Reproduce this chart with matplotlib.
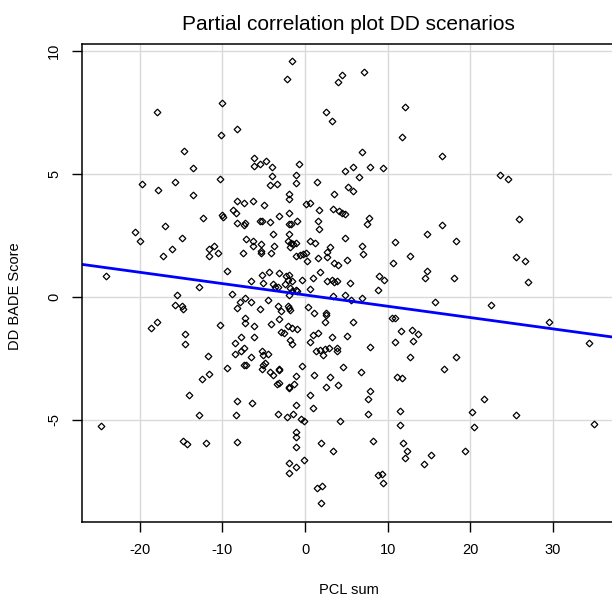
## Partial correlation scatter (R base-graphics look)
import matplotlib
matplotlib.use("Agg")
import matplotlib.pyplot as plt
import numpy as np

plt.rcParams['font.family'] = ['Liberation Sans', 'DejaVu Sans']
plt.rcParams['axes.unicode_minus'] = False  # R prints plain hyphens

# points (PCL sum, DD BADE score)
pts = [
    # top-left
    (-17.9, 7.52), (-14.6, 5.93), (-13.6, 5.22), (-19.7, 4.58), (-17.8, 4.34), (-15.8, 4.69), (-13.6, 4.15),
    # top-centre
    (-1.57, 9.58), (-2.14, 8.86), (4.0, 8.74), (4.47, 9.0), (-10.0, 7.87), (2.58, 7.52), (3.22, 7.15),
    (-10.16, 6.6), (-8.3, 6.84), (-6.17, 5.65), (-6.17, 5.32), (-5.44, 5.41), (-4.72, 5.54), (-4.03, 5.26),
    (-4.03, 4.93), (-4.23, 4.54), (-3.42, 4.58), (-0.73, 5.41), (-1.05, 4.97), (-1.05, 4.65), (1.41, 4.69),
    (3.55, 4.19), (-1.9, 4.19), (-1.9, 3.97), (-10.3, 4.78), (-8.3, 3.89), (-7.38, 3.81), (-6.25, 3.89),
    (-5.0, 3.74), (0.08, 3.78), (0.6, 3.81),
    # top-right
    (7.1, 9.15), (12.1, 7.71), (11.7, 6.48), (16.6, 5.73), (6.85, 5.88), (4.84, 5.13), (5.8, 5.3),
    (7.8, 5.3), (9.47, 5.22), (6.53, 4.87), (5.24, 4.48), (5.77, 4.3), (23.6, 4.95), (24.5, 4.78),
    # middle-left
    (-12.4, 3.22), (-20.6, 2.63), (-20.0, 2.26), (-16.9, 2.87), (-14.9, 2.38), (-16.1, 1.95), (-17.2, 1.68),
    (-11.6, 1.95), (-10.97, 2.06), (-11.6, 1.68), (-24.1, 0.84), (-12.9, 0.39), (-15.5, 0.08), (-15.8, -0.33),
    (-14.9, -0.37), (-14.75, -0.48), (-18.7, -1.26), (-17.9, -1.04), (-14.55, -1.5), (-14.55, -1.91),
    (-11.7, -2.39),
    # bottom-left
    (-11.65, -3.13), (-12.45, -3.33), (-14.1, -3.97), (-12.9, -4.81), (-24.7, -5.24), (-14.8, -5.87),
    (-14.3, -5.99), (-12.0, -5.92),
    # bottom-centre
    (-9.47, -2.9), (-7.45, -2.78), (-7.2, -2.78), (-5.1, -2.76), (-4.84, -2.7), (-5.2, -2.93), (-4.23, -3.05),
    (-3.83, -3.18), (-3.2, -2.94), (-3.1, -2.97), (-3.2, -3.48), (-3.35, -3.56), (-1.9, -3.65), (-1.9, -3.71),
    (-1.33, -3.54), (-1.05, -3.21), (-0.36, -2.82), (1.09, -3.17), (3.02, -3.26), (2.58, -3.65), (4.0, -3.58),
    (4.56, -2.83), (0.56, -3.97), (0.93, -4.5), (-1.05, -4.4), (-8.3, -4.25), (-6.4, -4.32), (-8.38, -4.8),
    (-3.31, -4.76), (-2.22, -4.89), (-1.41, -4.76), (-0.48, -4.97), (-0.08, -5.05), (4.23, -5.05),
    (-1.05, -5.48), (-1.05, -5.7), (-1.05, -6.12), (-8.3, -5.91), (1.9, -5.92), (3.35, -6.26), (-1.9, -6.76),
    (-1.05, -6.91), (-1.9, -7.15), (-0.12, -6.61), (1.49, -7.78), (2.06, -7.67), (1.9, -8.39),
    # bottom-right
    (6.73, -3.05), (11.1, -3.24), (11.7, -3.29), (16.8, -2.94), (7.9, -3.81), (7.58, -4.16), (7.58, -4.76),
    (11.5, -4.65), (11.5, -5.2), (20.2, -4.69), (20.4, -5.27), (8.26, -5.84), (11.9, -5.95), (12.3, -6.26),
    (12.05, -6.56), (15.2, -6.44), (14.4, -6.79), (19.3, -6.27), (8.8, -7.24), (9.3, -7.18), (9.47, -7.55),
    (21.6, -4.17), (25.55, -4.81), (35.0, -5.16),
    # far right
    (25.9, 3.18), (25.5, 1.63), (26.6, 1.44), (27.0, 0.6), (22.45, -0.33), (29.5, -1.03), (34.4, -1.87),
    # middle-right
    (4.43, 3.43), (4.84, 3.35), (7.74, 3.2), (7.46, 2.96), (16.6, 2.94), (14.7, 2.55), (18.3, 2.26),
    (10.9, 2.22), (4.84, 2.38), (6.85, 2.07), (7.05, 1.76), (12.7, 1.68), (10.64, 1.39), (5.08, 1.48),
    (14.75, 1.04), (14.55, 0.76), (18.0, 0.76), (8.95, 0.84), (9.55, 0.68), (5.44, 0.56), (8.86, 0.28),
    (4.84, 0.08), (5.53, -0.13), (6.85, -0.04), (15.7, -0.19), (10.48, -0.87), (10.88, -0.87), (5.77, -1.03),
    (11.57, -1.38), (12.9, -1.34), (13.7, -1.52), (5.08, -1.59), (10.88, -1.82), (13.0, -1.79), (7.82, -2.02),
    (12.66, -2.45), (18.3, -2.45),
    # centre (dense)
    (1.73, 3.52), (3.43, 3.59), (4.15, 3.48),
    (-10.07, 3.33), (-9.88, 3.24), (-8.75, 3.54), (-8.34, 3.4), (-8.25, 3.02), (-7.45, 2.93), (-7.33, 2.99),
    (-5.44, 3.1), (-5.24, 3.1), (-4.23, 3.05), (-3.1, 3.29), (-1.9, 3.43), (-1.9, 2.97), (-1.7, 2.97),
    (-1.0, 3.1), (1.61, 3.1), (1.73, 2.78), (-3.83, 2.55), (-1.9, 2.56), (-7.17, 2.34), (-6.25, 2.26),
    (-5.32, 2.15), (-6.33, 2.07), (-7.57, 1.8), (-5.32, 1.87), (-5.32, 1.77), (-4.16, 1.77), (-3.71, 2.08),
    (-2.1, 2.29), (-1.7, 2.21), (-1.41, 2.14), (-1.09, 2.18), (-1.81, 2.04), (-0.2, 1.75), (0.12, 1.77),
    (-1.09, 1.68), (-0.6, 1.71), (0.2, 1.44), (0.6, 2.29), (1.21, 2.21), (1.61, 1.6), (2.7, 1.84),
    (2.62, 1.64), (3.03, 2.04), (3.51, 1.37), (4.03, 1.3), (-10.5, 1.8),
    (-9.47, 1.06), (-6.57, 0.66), (-5.16, 0.9), (-4.35, 1.02), (-3.14, 0.96), (-2.3, 0.83), (-1.93, 0.9),
    (-2.13, 0.69), (-1.61, 0.65), (-5.04, 0.55), (-3.83, 0.53), (-3.59, 0.39), (-3.3, 0.39), (-2.42, 0.53),
    (-1.81, 0.35), (-1.53, 0.26), (-1.09, 0.28), (-0.93, 0.22), (-1.93, 0.08), (-0.32, 0.69), (0.6, 0.31),
    (0.93, 0.75), (1.81, 1.02), (2.62, 0.63), (3.22, 0.69), (3.83, 0.65), (3.51, 0.6), (3.43, 0.02),
    (-8.87, 0.1), (-7.33, -0.05), (-7.86, -0.19), (-8.25, -0.46), (-6.57, -0.19), (-4.51, -0.12),
    (-5.44, -0.5), (-3.23, -0.39), (-2.94, -0.57), (-2.13, -0.39), (-2.0, -0.47), (-1.81, -0.53),
    (-3.14, -0.9), (0.32, -0.42), (1.08, -0.66), (2.5, -0.66), (2.5, -0.73), (2.42, -1.03), (-10.28, -1.14),
    (-7.33, -0.87), (-7.25, -1.07), (-6.13, -1.2), (-4.07, -1.1), (-2.13, -1.2), (-1.61, -1.27), (-1.0, -1.3),
    (-2.94, -1.41), (-2.54, -1.48), (-7.78, -1.61), (-8.47, -1.86), (-6.13, -1.64), (-1.81, -1.75),
    (-1.61, -1.91), (0.93, -1.55), (1.61, -1.45), (0.6, -1.82), (3.22, -1.61), (-7.41, -2.09), (-7.78, -2.18),
    (-8.47, -2.32), (-6.53, -2.43), (-5.2, -2.18), (-5.12, -2.35), (-4.51, -2.32), (1.33, -2.18), (1.81, -2.15),
    (2.42, -2.13), (2.95, -2.09), (3.83, -2.09), (3.91, -2.18), (2.22, -2.35),
]
pcl_sum = [p[0] for p in pts]
bade_score = [p[1] for p in pts]

# fitted line
line_intercept = 0.08
line_slope = -0.046

xticks = [-20, -10, 0, 10, 20, 30]
yticks = [-5, 0, 5, 10]

fig = plt.figure(figsize=(6.12, 5.97), dpi=100)
ax = fig.add_axes([82/612, 75/597, 533/612, 478/597])

ax.set_xlim(-27.0, 37.5)
ax.set_ylim(-9.15, 10.28)
ax.set_xticks(xticks)
ax.set_yticks(yticks)
ax.set_yticklabels([str(t) for t in yticks], rotation=90, va='center')
ax.grid(True, color='#d9d9d9', linewidth=1)
ax.set_axisbelow(True)

ax.plot(pcl_sum, bade_score, linestyle='none', marker='D', markersize=3.4,
        markerfacecolor='none', markeredgecolor='black', markeredgewidth=0.9)
ax.axline((0, line_intercept), slope=line_slope, color='#0000ff', linewidth=2)

for s in ax.spines.values():
    s.set_linewidth(1.1)
ax.tick_params(direction='out', length=7, width=1, labelsize=10.5, pad=8)

ax.set_title('Partial correlation plot DD scenarios', fontsize=15, pad=10)
ax.set_xlabel('PCL sum', fontsize=10.5)
ax.xaxis.set_label_coords(0.5, -0.128)
ax.set_ylabel('DD BADE Score', fontsize=10.5)
ax.yaxis.set_label_coords(-0.112, 0.473)

fig.savefig('out.png', dpi=100)
